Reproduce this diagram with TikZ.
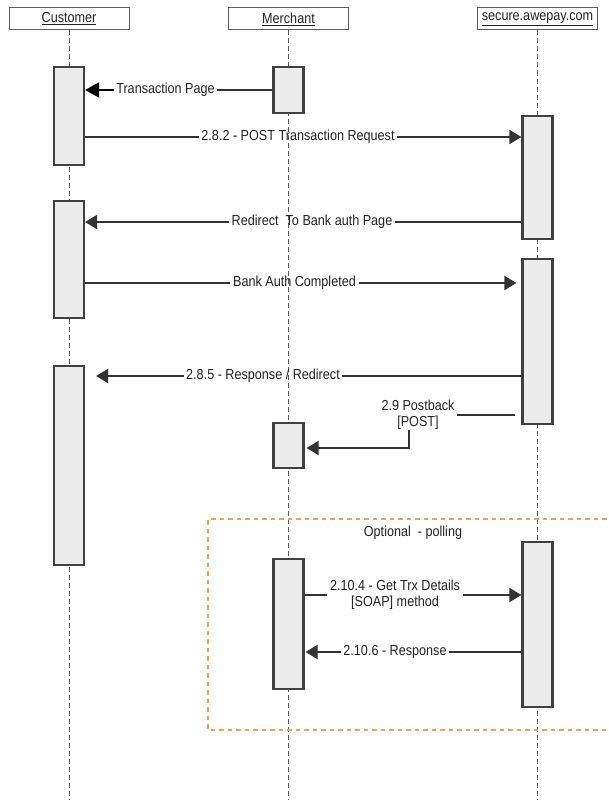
\documentclass[tikz,border=0pt]{standalone}
\usepackage{fontspec}
\setmainfont[FakeStretch=0.87]{Liberation Sans}
\usetikzlibrary{arrows.meta}
\definecolor{boxfill}{RGB}{236,236,236}
\definecolor{boxline}{RGB}{64,64,64}
\definecolor{msgcol}{RGB}{51,51,51}
\definecolor{txtcol}{RGB}{35,35,35}
\definecolor{orng}{RGB}{238,160,85}
\begin{document}
\begin{tikzpicture}[x=1pt,y=-1pt,
  every node/.style={font=\fontsize{14.5}{16}\selectfont, text=txtcol},
  head/.style={draw=boxline!85, line width=1pt, fill=white, minimum width=120pt, minimum height=22pt, inner sep=0pt},
  act/.style={draw=boxline, line width=2.2pt, fill=boxfill, minimum width=30pt, inner sep=0pt},
  life/.style={draw=black!65, line width=0.9pt, dash pattern=on 5pt off 3pt},
  msg/.style={draw=msgcol, line width=2pt},
  arr/.style={msg, -{Triangle[length=12pt,width=14pt]}},
  lbl/.style={inner xsep=2.5pt, inner ysep=0pt, align=center}
]
\useasboundingbox (0,0) rectangle (608,800);
\clip (0,0) rectangle (608,800);
\fill[white] (0,0) rectangle (608,800);
\coordinate (bot) at (0,800);

% headers
\node[head] (hC) at (69,19) {\underline{Customer}};
\node[head] (hM) at (288.5,19) {\underline{Merchant}};
\node[head] (hS) at (537.5,19) {\underline{secure.awepay.com}};

% lifelines
\draw[life] (hC.south) -- (hC.south |- bot);
\draw[life] (hM.south) -- (hM.south |- bot);
\draw[life] (hS.south) -- (hS.south |- bot);

% optional frame
\draw[draw=orng, line width=2.2pt, dash pattern=on 4.5pt off 4pt] (615,519) -- (208,519) -- (208,730) -- (615,730);
\node (opt) at (413,533) {Optional~ - polling};

% activations
\node[act, minimum height=98pt]  (A1) at (69,116) {};
\node[act, minimum height=46pt]  (M1) at (288.5,90) {};
\node[act, minimum height=123pt] (S1) at (537.5,177.5) {};
\node[act, minimum height=117pt] (A2) at (69,259.5) {};
\node[act, minimum height=165pt] (S2) at (537.5,341.5) {};
\node[act, minimum height=199pt] (A3) at (69,465.5) {};
\node[act, minimum height=45pt]  (M2) at (288.5,445.5) {};
\node[act, minimum height=165pt] (S3) at (537.5,624.5) {};
\node[act, minimum height=130pt] (M3) at (288.5,624) {};

% messages
\node[lbl] (t1) at (165.5,90) {Transaction Page};
\draw[msg] (M1.west |- t1) -- (t1.east);
\draw[msg, draw=black, -{Triangle[length=14pt,width=15pt]}] (t1.west) -- (A1.east |- t1);

\node[lbl] (t2) at (298,137) {2.8.2 - POST Transaction Request};
\draw[msg] (A1.east |- t2) -- (t2.west);
\draw[arr] (t2.east) -- (S1.west |- t2);

\node[lbl] (t3) at (312,222) {Redirect~ To Bank auth Page};
\draw[msg] (S1.west |- t3) -- (t3.east);
\draw[arr] (t3.west) -- (A2.east |- t3);

\node[lbl] (t4) at (294.5,283) {Bank Auth Completed};
\draw[msg] (A2.east |- t4) -- (t4.west);
\draw[arr, shorten >=5pt] (t4.east) -- (S2.west |- t4);

\node[lbl] (t5) at (263,376) {2.8.5 - Response / Redirect};
\draw[msg] (S2.west |- t5) -- (t5.east);
\draw[arr, shorten >=11pt] (t5.west) -- (A3.east |- t5);

\node[lbl] (t6) at (418,415) {2.9 Postback\\{}[POST]};
\coordinate (p6) at (515,415);
\coordinate (q6) at (409,448);
\draw[msg] (p6) -- (t6.east |- p6);
\draw[arr, shorten >=2pt] (q6 |- t6.south) -- (q6) -- (M2.east |- q6);

\node[lbl] (t7) at (395,595) {2.10.4 - Get Trx Details\\{}[SOAP] method};
\draw[msg] (M3.east |- t7) -- (t7.west);
\draw[arr] (t7.east) -- (S3.west |- t7);

\node[lbl] (t8) at (395,652) {2.10.6 - Response};
\draw[msg] (S3.west |- t8) -- (t8.east);
\draw[arr, shorten >=1pt] (t8.west) -- (M3.east |- t8);
\end{tikzpicture}
\end{document}
